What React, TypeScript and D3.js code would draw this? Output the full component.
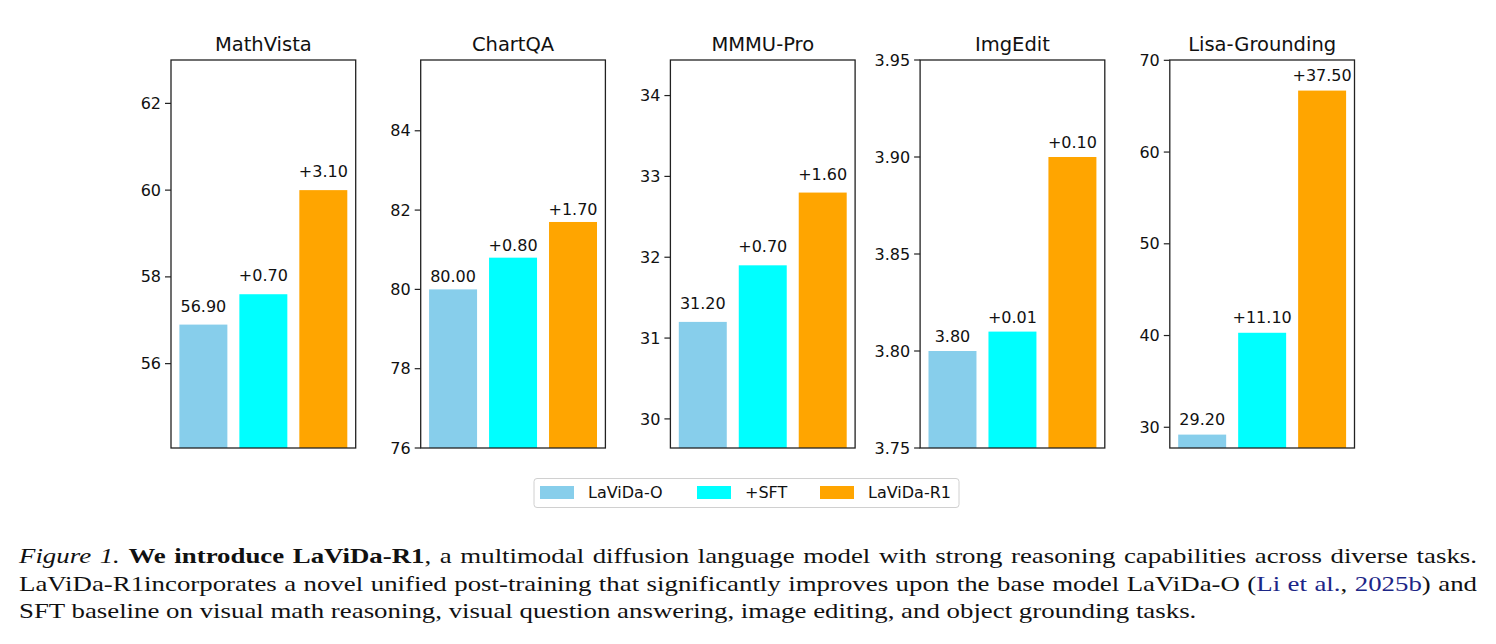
import * as d3 from "d3";

const benchmarks = ["MathVista", "ChartQA", "MMMU-Pro", "ImgEdit", "Lisa-Grounding"];
const seriesNames = ["LaViDa-O", "+SFT", "LaViDa-R1"];
const seriesColors = ["#87ceeb", "#00ffff", "#ffa500"];

const baseScores = [56.9, 80.0, 31.2, 3.8, 29.2];
const sftScores = [57.6, 80.8, 31.9, 3.81, 40.3];
const r1Scores = [60.0, 81.7, 32.8, 3.9, 66.7];
const sftGains = ["+0.70", "+0.80", "+0.70", "+0.01", "+11.10"];
const r1Gains = ["+3.10", "+1.70", "+1.60", "+0.10", "+37.50"];

const yDomains: [number, number][] = [
  [54.055, 63.0],
  [76.0, 85.785],
  [29.64, 34.44],
  [3.75, 3.95],
  [27.74, 70.035],
];
const yTicks = [
  [56, 58, 60, 62],
  [76, 78, 80, 82, 84],
  [30, 31, 32, 33, 34],
  [3.75, 3.8, 3.85, 3.9, 3.95],
  [30, 40, 50, 60, 70],
];
const tickFormats = ["d", "d", "d", ".2f", "d"];

// layout (px)
const W = 1496;
const H = 644;
const plotTop = 60;
const plotBottom = 448;
const panelLeft0 = 171;
const panelStep = 249.7;
const panelWidth = 184.7;
const labelOffsets = [13, 7, 13, 9, 10];
const sans = "'DejaVu Sans', sans-serif";

function Panel({ idx }: { idx: number }) {
  const left = panelLeft0 + idx * panelStep;
  const right = left + panelWidth;
  const x = d3.scaleLinear().domain([-0.54, 2.54]).range([left, right]);
  const y = d3.scaleLinear().domain(yDomains[idx]).range([plotBottom, plotTop]);
  const fmt = d3.format(tickFormats[idx]);
  const values = [baseScores[idx], sftScores[idx], r1Scores[idx]];
  const labels = [baseScores[idx].toFixed(2), sftGains[idx], r1Gains[idx]];
  const barW = x(0.8) - x(0);

  return (
    <g>
      {values.map((v, i) => (
        <g key={i}>
          <rect
            x={x(i - 0.4)}
            y={y(v)}
            width={barW}
            height={plotBottom - y(v)}
            fill={seriesColors[i]}
          />
          <text
            x={x(i)}
            y={y(v) - labelOffsets[idx]}
            textAnchor="middle"
            fontSize={16}
            fontFamily={sans}
            fill="#111"
          >
            {labels[i]}
          </text>
        </g>
      ))}
      <rect
        x={left}
        y={plotTop}
        width={panelWidth}
        height={plotBottom - plotTop}
        fill="none"
        stroke="#222"
        strokeWidth={1.3}
      />
      {yTicks[idx].map((t) => (
        <g key={t} transform={`translate(0,${y(t)})`}>
          <line x1={left - 6} x2={left} stroke="#222" strokeWidth={1.2} />
          <text
            x={left - 10}
            dy="0.35em"
            textAnchor="end"
            fontSize={16}
            fontFamily={sans}
            fill="#111"
          >
            {fmt(t)}
          </text>
        </g>
      ))}
      <text
        x={(left + right) / 2}
        y={plotTop - 9}
        textAnchor="middle"
        fontSize={19.5}
        fontFamily={sans}
        fill="#111"
      >
        {benchmarks[idx]}
      </text>
    </g>
  );
}

function Legend() {
  const itemX = [540, 697, 820];
  return (
    <g>
      <rect x={534} y={478.5} width={425} height={29} rx={3} fill="#fff" stroke="#d0d0d0" strokeWidth={1} />
      {seriesNames.map((name, i) => (
        <g key={name}>
          <rect x={itemX[i]} y={486} width={34} height={13} fill={seriesColors[i]} />
          <text
            x={itemX[i] + 48}
            y={492.5}
            dy="0.35em"
            fontSize={16}
            fontFamily={sans}
            fill="#111"
          >
            {name}
          </text>
        </g>
      ))}
    </g>
  );
}

const serif = "'Liberation Serif', 'Times New Roman', serif";
const linkColor = "#1c2687";
// caption glyphs in the reference are wider than Liberation Serif at the same height
const captionScaleX = 1.22;
const captionLeft = 19;
const captionWidth = 1458;

export default function App() {
  const lineStyle = (justify: boolean): React.CSSProperties => ({
    height: 27.6,
    lineHeight: "27.6px",
    whiteSpace: "nowrap",
    textAlign: justify ? "justify" : "left",
    textAlignLast: justify ? "justify" : "left",
  });
  return (
    <div style={{ position: "fixed", left: 0, top: 0, width: W, height: H, background: "#fff" }}>
      <svg width={W} height={H} style={{ position: "absolute", left: 0, top: 0 }}>
        {benchmarks.map((_, i) => (
          <Panel key={i} idx={i} />
        ))}
        <Legend />
      </svg>
      <div
        style={{
          position: "absolute",
          left: captionLeft,
          top: 542,
          width: captionWidth / captionScaleX,
          transform: `scaleX(${captionScaleX})`,
          transformOrigin: "0 0",
          fontFamily: serif,
          fontSize: 22,
          color: "#111",
        }}
      >
        <div style={lineStyle(true)}>
          <i>Figure 1.</i> <b>We introduce LaViDa-R1</b>, a multimodal diffusion language model with
          strong reasoning capabilities across diverse tasks.
        </div>
        <div style={lineStyle(true)}>
          LaViDa-R1incorporates a novel unified post-training that significantly improves upon the base
          model LaViDa-O (<span style={{ color: linkColor }}>Li et al.</span>,{" "}
          <span style={{ color: linkColor }}>2025b</span>) and
        </div>
        <div style={lineStyle(false)}>
          SFT baseline on visual math reasoning, visual question answering, image editing, and object
          grounding tasks.
        </div>
      </div>
    </div>
  );
}
